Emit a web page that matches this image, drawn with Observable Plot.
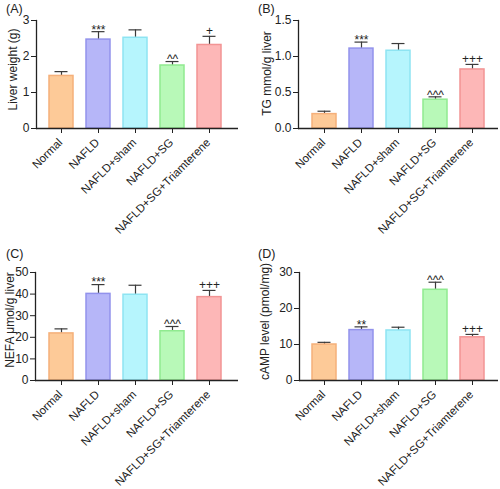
<!DOCTYPE html>
<html>
<head>
<meta charset="utf-8">
<script src="https://cdn.jsdelivr.net/npm/d3@7"></script>
<script src="https://cdn.jsdelivr.net/npm/@observablehq/plot@0.6"></script>
<style>
  html, body { margin: 0; padding: 0; background: #fff; }
  #fig { position: relative; width: 500px; height: 489px; background: #fff; overflow: hidden;
         font-family: "Liberation Sans", Arial, sans-serif; color: #222; }
  .panel { position: absolute; width: 250px; height: 245px; }
  .tag { position: absolute; font-size: 12.5px; line-height: 1; font-family: "Liberation Sans", Arial, sans-serif; color: #222; }
  svg { overflow: visible; }
</style>
</head>
<body>
<div id="fig"></div>
<script>
// ---- data ----
const groups = ["Normal", "NAFLD", "NAFLD+sham", "NAFLD+SG", "NAFLD+SG+Triamterene"];
const fillColors = ["#fdca98", "#b6b6f8", "#b6f5fd", "#b8f9b8", "#fdb7b7"];
const strokeColors = ["#f5b07a", "#9292ec", "#8ee4f2", "#90ea90", "#f29494"];

const liverWeight = [1.46, 2.47, 2.52, 1.75, 2.32];
const liverWeightSD = [0.12, 0.22, 0.22, 0.11, 0.24];
const liverWeightSig = ["", "***", "", "^^", "+"];
const liverWeightTicks = [0, 1, 2, 3];

const tg = [0.20, 1.11, 1.08, 0.40, 0.82];
const tgSD = [0.04, 0.09, 0.10, 0.04, 0.07];
const tgSig = ["", "***", "", "^^^", "+++"];
const tgTicks = [0, 0.5, 1.0, 1.5];

const nefa = [21.8, 40.1, 39.7, 22.8, 38.6];
const nefaSD = [2.1, 4.3, 4.4, 2.2, 3.1];
const nefaSig = ["", "***", "", "^^^", "+++"];
const nefaTicks = [0, 10, 20, 30, 40, 50];

const camp = [10.0, 14.0, 13.9, 25.2, 12.0];
const campSD = [0.6, 0.9, 0.9, 2.1, 0.8];
const campSig = ["", "**", "", "^^^", "+++"];
const campTicks = [0, 10, 20, 30];

const FONT = '"Liberation Sans", Arial, sans-serif';

function rows(values, sd, sig) {
  return groups.map((g, i) => ({
    g, v: values[i], top: values[i] + sd[i], sig: sig[i],
    fill: fillColors[i], stroke: strokeColors[i]
  }));
}

function panel({values, sd, sig, ticks, fmt, label, marginLeft, marginRight, xRange, labelDx, labelDy}) {
  const data = rows(values, sd, sig);
  const y0 = ticks[0];
  return Plot.plot({
    width: 250,
    height: 245,
    marginTop: 20,
    marginBottom: 117,
    marginLeft,
    marginRight,
    style: {fontFamily: FONT, fontSize: "12px", color: "#222", background: "transparent", overflow: "visible"},
    x: {domain: groups, range: xRange, paddingInner: 0.356, paddingOuter: 0, label: null},
    y: {domain: [y0, ticks[ticks.length - 1]], label: null},
    marks: [
      Plot.ruleX(data, {x: "g", y1: "v", y2: "top", stroke: "#3a3a3a", strokeWidth: 1.2}),
      Plot.tickY(data, {x: "g", y: "top", stroke: "#3a3a3a", strokeWidth: 1.2, insetLeft: 5.5, insetRight: 5.5}),
      Plot.barY(data, {x: "g", y: "v", fill: "fill", stroke: "stroke", strokeWidth: 1.5}),
      // significance marks
      Plot.text(data.filter(d => d.sig.startsWith("*")), {x: "g", y: "top", text: "sig",
        lineAnchor: "middle", dy: -2, fontSize: 12, fill: "#222"}),
      Plot.text(data.filter(d => d.sig.startsWith("^")), {x: "g", y: "top", text: "sig",
        lineAnchor: "middle", dy: -2, fontSize: 12, fill: "#222"}),
      Plot.text(data.filter(d => d.sig.startsWith("+")), {x: "g", y: "top", text: "sig",
        lineAnchor: "middle", dy: -5.5, fontSize: 12, fill: "#222"}),
      // y axis
      Plot.axisY({ticks, tickFormat: fmt, tickSize: 5, tickPadding: 2, fontSize: 12, label: null}),
      Plot.text([label], {frameAnchor: "left", text: d => d, rotate: -90, textAnchor: "middle",
        lineAnchor: "middle", dx: labelDx, dy: labelDy, fontSize: 12, fill: "#222"}),
      // x axis ticks + rotated labels
      Plot.axisX({tickSize: 5, tickFormat: () => "", label: null}),
      Plot.text(data, {x: "g", y: () => y0, text: "g", rotate: -45, textAnchor: "end",
        lineAnchor: "middle", dx: -1, dy: 12, fontSize: 11.5, fill: "#222"}),
      Plot.frame({anchor: "left", stroke: "#222", strokeWidth: 1.3}),
      Plot.ruleY([y0], {stroke: "#222", strokeWidth: 1.3})
    ]
  });
}

const specs = [
  {tag: "(A)", left: 0, top: 0, tagX: 6, tagY: 2.5, values: liverWeight, sd: liverWeightSD, sig: liverWeightSig,
   ticks: liverWeightTicks, fmt: d3.format("d"), label: "Liver weight (g)",
   marginLeft: 36, marginRight: 12, xRange: [48, 221], labelDx: -23, labelDy: -5},
  {tag: "(B)", left: 250, top: 0, tagX: 8, tagY: 2.5, values: tg, sd: tgSD, sig: tgSig,
   ticks: tgTicks, fmt: d3.format(".1f"), label: "TG mmol/g liver",
   marginLeft: 48, marginRight: 2, xRange: [61.7, 234.7], labelDx: -31, labelDy: -1},
  {tag: "(C)", left: 0, top: 252, tagX: 6, tagY: -4, values: nefa, sd: nefaSD, sig: nefaSig,
   ticks: nefaTicks, fmt: d3.format("d"), label: "NEFA μmol/g liver",
   marginLeft: 35, marginRight: 12, xRange: [48, 221], labelDx: -25, labelDy: -6.5},
  {tag: "(D)", left: 250, top: 252, tagX: 8, tagY: -4, values: camp, sd: campSD, sig: campSig,
   ticks: campTicks, fmt: d3.format("d"), label: "cAMP level (pmol/mg)",
   marginLeft: 49, marginRight: 2, xRange: [61.7, 235], labelDx: -34, labelDy: -5}
];

const fig = document.getElementById("fig");
for (const s of specs) {
  const div = document.createElement("div");
  div.className = "panel";
  div.style.left = s.left + "px";
  div.style.top = s.top + "px";
  div.appendChild(panel(s));
  fig.appendChild(div);
  const tag = document.createElement("div");
  tag.className = "tag";
  tag.textContent = s.tag;
  tag.style.left = (s.left + s.tagX) + "px";
  tag.style.top = (s.top + s.tagY) + "px";
  fig.appendChild(tag);
}
</script>
</body>
</html>
